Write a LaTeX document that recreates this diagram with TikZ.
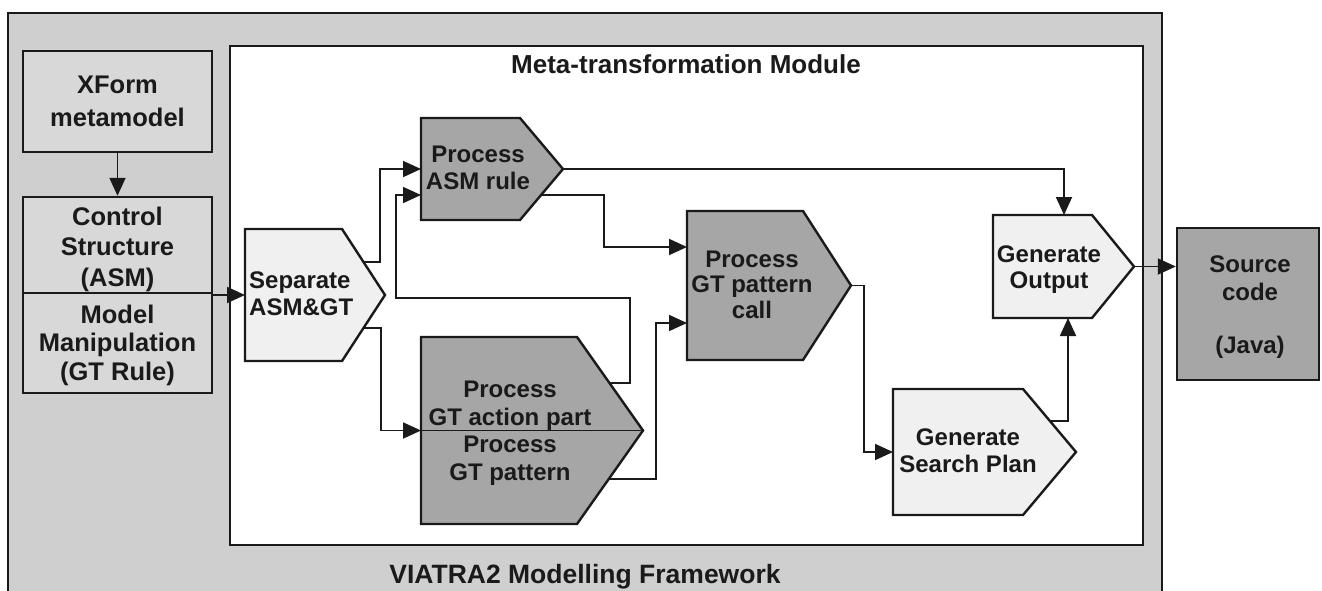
\documentclass[tikz,border=0pt]{standalone}
\usepackage{fontspec}
\setmainfont{Liberation Sans}
\usetikzlibrary{arrows.meta,calc}

\definecolor{framegray}{HTML}{CFCFCF}
\definecolor{boxgray}{HTML}{D8D8D8}
\definecolor{procgray}{HTML}{A6A6A6}
\definecolor{stagelight}{HTML}{F0F0F0}
\definecolor{ink}{HTML}{1A1A1A}

\tikzset{
  outline/.style={draw=ink, line width=2.4pt, line join=miter},
  box/.style={outline, rectangle, inner sep=0pt},
  flow/.style={draw=ink, line width=1.8pt, -{Triangle[length=18pt,width=16pt]}},
  txt/.style={font=\bfseries\fontsize{24}{27}\selectfont, text=ink, align=center,
              inner sep=0pt, anchor=base},
  lefttxt/.style={txt, font=\bfseries\fontsize{25.5}{30}\selectfont},
}

% pentagon-shaped processing stage: name, style, left, top, body right, tip x, bottom
\newcommand\stagebox[7]{%
  \coordinate (#1-nw) at (#3,#4);
  \coordinate (#1-ne) at (#5,#4);
  \coordinate (#1-tip) at (#6,{(#4+#7)/2});
  \coordinate (#1-se) at (#5,#7);
  \coordinate (#1-sw) at (#3,#7);
  \draw[outline, #2] (#1-nw) -- (#1-ne) -- (#1-tip) -- (#1-se) -- (#1-sw) -- cycle;
}

\begin{document}
\begin{tikzpicture}[x=1pt, y=-1pt]
\useasboundingbox (0,0) rectangle (1322,590);
\clip (0,0) rectangle (1322,590);

% framework container
\draw[outline, fill=framegray] (8,13) rectangle (1162,604);
\node[txt, font=\bfseries\fontsize{26.5}{30}\selectfont] (fwtitle) at (585,583)
  {VIATRA2 Modelling Framework};

% meta-transformation module container
\draw[outline, fill=white] (230,46) rectangle (1143,545);
\node[txt, font=\bfseries\fontsize{26}{30}\selectfont] (modtitle) at (686,73)
  {Meta-transformation Module};

% inputs on the left (text nodes are placed by the baseline of their last line)
\node[box, fill=boxgray, minimum width=189pt, minimum height=101pt] (xformbox) at (117.5,101.5) {};
\node[box, fill=boxgray, minimum width=189pt, minimum height=96pt] (ctrlbox) at (117.5,245) {};
\node[box, fill=boxgray, minimum width=189pt, minimum height=100pt] (gtbox) at (117.5,343) {};
\node[lefttxt, font=\bfseries\fontsize{25.5}{33}\selectfont] (xformtxt) at (117.5,126) {XForm\\metamodel};
\node[lefttxt, font=\bfseries\fontsize{25.5}{30.5}\selectfont] (ctrltxt) at (117.5,286) {Control\\Structure\\(ASM)};
\node[lefttxt, font=\bfseries\fontsize{25.5}{28.5}\selectfont] (gttxt) at (117.5,380) {Model\\Manipulation\\(GT Rule)};

% output
\node[box, fill=procgray, minimum width=142pt, minimum height=152pt] (srcbox) at (1248,304) {};
\node[txt, font=\bfseries\fontsize{24}{28}\selectfont] (srctxt) at (1250,353) {Source\\code\\[25pt](Java)};

% processing stages
\stagebox{sep}{fill=stagelight}{245}{229}{342}{385}{361}
\stagebox{asm}{fill=procgray}{421}{118}{520}{563}{220}
\stagebox{gt}{fill=procgray}{421}{337}{577}{643}{524}
\draw[outline, line width=1.8pt] (gt-nw |- gt-tip) -- (gt-tip);
\stagebox{call}{fill=procgray}{687}{211}{803}{851}{360}
\stagebox{out}{fill=stagelight}{993}{215}{1092}{1134}{318}
\stagebox{plan}{fill=stagelight}{893}{389}{1023}{1076}{515}

\node[txt, align=left, anchor=base west] (septxt) at (249,315) {Separate\\ASM\&GT};
\node[txt] (asmtxt) at (478,189) {Process\\ASM rule};
\node[txt, font=\bfseries\fontsize{24}{28}\selectfont] (gtatxt) at (510,425) {Process\\GT action part};
\node[txt, font=\bfseries\fontsize{24}{28}\selectfont] (gtptxt) at (510,480) {Process\\GT pattern};
\node[txt, font=\bfseries\fontsize{24}{25.5}\selectfont] (calltxt) at (752,318) {Process\\GT pattern\\call};
\node[txt, font=\bfseries\fontsize{24}{26}\selectfont] (outtxt) at (1049,288) {Generate\\Output};
\node[txt] (plantxt) at (968,472) {Generate\\Search Plan};

% connector end points on the stage outlines
\coordinate (sep-w) at (245,295);
\coordinate (sep-o1) at (363.5,262);
\coordinate (sep-o2) at (363.5,328);
\coordinate (asm-i1) at (421,169);
\coordinate (asm-i2) at (421,195);
\coordinate (asm-o2) at (541,195);
\coordinate (gt-w) at (421,430.5);
\coordinate (gta-o) at (609.3,383);
\coordinate (gtp-o) at (609,479);
\coordinate (call-i1) at (687,247);
\coordinate (call-i2) at (687,323);
\coordinate (out-n) at (1064,215);
\coordinate (out-s) at (1068,318);
\coordinate (plan-w) at (893,452);
\coordinate (plan-o) at (1050,421);

% connectors
\draw[flow] (xformbox.south) -- (ctrlbox.north);
\draw[flow] (ctrlbox.south east |- sep-w) -- (sep-w);
\draw[flow] (sep-o1) -- ++(16.5,0) |- (asm-i1);
\draw[flow] (sep-o2) -- ++(17.5,0) |- (gt-w);
\draw[flow] (gta-o) -- ++(20.7,0) |- (396,298) |- (asm-i2);
\draw[flow] (asm-o2) -- ++(63,0) |- (call-i1);
\draw[flow] (gtp-o) -- ++(47,0) |- (call-i2);
\draw[flow] (asm-tip) -| (out-n);
\draw[flow] (call-tip) -- ++(13,0) |- (plan-w);
\draw[flow] (plan-o) -| (out-s);
\draw[flow] (out-tip) -- (out-tip -| srcbox.west);
\end{tikzpicture}
\end{document}
